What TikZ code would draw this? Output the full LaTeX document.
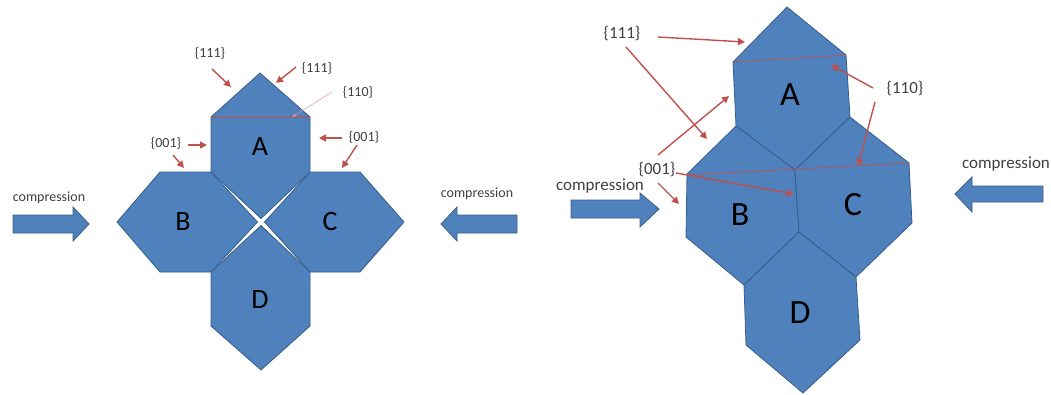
\documentclass[tikz,border=0pt]{standalone}
\usepackage{fontspec}
\setmainfont{Carlito}
\usetikzlibrary{arrows.meta}
\definecolor{cblue}{HTML}{4F81BD}
\definecolor{cedge}{HTML}{385D8A}
\definecolor{cred}{HTML}{C0504D}
\definecolor{ctext}{HTML}{404040}
\tikzset{
  grain/.style={fill=cblue,draw=cedge,line width=0.8pt,line join=miter},
  blockarrow/.style={fill=cblue,draw=cedge,line width=0.8pt},
  facet/.style={draw=cred,line width=0.7pt},
  redarrow/.style={draw=cred,line width=1.4pt,-{Triangle[length=7pt,width=7pt]}},
  thinarrow/.style={draw=cred!60,line width=0.5pt,-{Triangle[length=4pt,width=3pt]}},
  letterL/.style={text=black,font=\fontsize{28}{30}\selectfont,inner sep=0pt},
  letterR/.style={text=black,font=\fontsize{34}{36}\selectfont,inner sep=0pt},
  lblL/.style={text=ctext,font=\fontsize{14}{16}\selectfont,inner sep=0pt},
  lblR/.style={text=ctext,font=\fontsize{17}{19}\selectfont,inner sep=0pt},
}
\begin{document}
\begin{tikzpicture}[x=1pt,y=-1pt]
\useasboundingbox (0,0) rectangle (1051,394);
% ---------------- left figure ----------------
\draw[grain] (211,172) -- (211,117) -- (260,73) -- (310,117) -- (310,172) -- (261,218.5) -- cycle;
\draw[grain] (117,222) -- (160,172) -- (211,172) -- (257.5,222) -- (211,272) -- (160,272) -- cycle;
\draw[grain] (264.5,222) -- (310,172) -- (360,172) -- (404,222) -- (360,272) -- (310,272) -- cycle;
\draw[grain] (211,272) -- (261,225.5) -- (310,272) -- (310,326) -- (261,370) -- (211,326) -- cycle;
\draw[facet] (211,117) -- (310,117);
\node[letterL] (LA) at (260,147) {A};
\node[letterL] (LB) at (183,222) {B};
\node[letterL] (LC) at (330,222) {C};
\node[letterL] (LD) at (260,300) {D};
% labels
\node[lblL] (l111a) at (210,53) {\{111\}};
\node[lblL] (l111b) at (317,68) {\{111\}};
\node[lblL] (l110) at (358,92) {\{110\}};
\node[lblL] (l001a) at (166,143) {\{001\}};
\node[lblL] (l001b) at (364,137) {\{001\}};
\coordinate (a1s) at (212,69);  \coordinate (a1e) at (231,87);
\coordinate (a2s) at (296,67);  \coordinate (a2e) at (276,83);
\coordinate (a3s) at (332,92);  \coordinate (a3e) at (292,117);
\coordinate (a4s) at (188,145); \coordinate (a4e) at (207,145);
\coordinate (a5s) at (173,155); \coordinate (a5e) at (184,168);
\coordinate (a6s) at (342,138); \coordinate (a6e) at (319,138);
\coordinate (a7s) at (357,145); \coordinate (a7e) at (342,168);
\draw[redarrow] (a1s) -- (a1e);
\draw[redarrow] (a2s) -- (a2e);
\draw[thinarrow] (a3s) -- (a3e);
\draw[redarrow] (a4s) -- (a4e);
\draw[redarrow] (a5s) -- (a5e);
\draw[redarrow] (a6s) -- (a6e);
\draw[redarrow] (a7s) -- (a7e);
% compression arrows
\node[lblL] (cL1) at (49,198) {compression};
\draw[blockarrow] (13,215) -- (73,215) -- (73,207) -- (89,224) -- (73,241) -- (73,233) -- (13,233) -- cycle;
\node[lblL] (cL2) at (477,194) {compression};
\draw[blockarrow] (517,215) -- (457,215) -- (457,207) -- (441,224) -- (457,241) -- (457,233) -- (517,233) -- cycle;
% ---------------- right figure ----------------
\draw[grain] (736,126) -- (733,62) -- (787,7) -- (846,55) -- (850,117) -- (795,170) -- cycle;
\draw[grain] (736,126) -- (795,170) -- (799,232) -- (744,285) -- (686,237) -- (687,174) -- cycle;
\draw[grain] (850,117) -- (909,163) -- (912,223) -- (856,277) -- (799,232) -- (795,170) -- cycle;
\draw[grain] (799,232) -- (856,277) -- (860,340) -- (803,393) -- (746,345) -- (744,285) -- cycle;
\draw[facet] (733,62) -- (846,55);
\draw[facet] (687,175) -- (908,163);
\node[letterR] (RA) at (790,95) {A};
\node[letterR] (RB) at (740,215) {B};
\node[letterR] (RC) at (853,205) {C};
\node[letterR] (RD) at (800,313) {D};
\node[lblR] (r111) at (622,34) {\{111\}};
\node[lblR] (r110) at (905,89) {\{110\}};
\node[lblR] (r001) at (657,170) {\{001\}};
\coordinate (b1s) at (658,37);  \coordinate (b1e) at (745,42);
\coordinate (b2s) at (626,47);  \coordinate (b2e) at (707,139);
\coordinate (b3s) at (873,88);  \coordinate (b3e) at (831,65);
\coordinate (b4s) at (875,102); \coordinate (b4e) at (858,166);
\coordinate (b5s) at (658,155); \coordinate (b5e) at (729,96);
\coordinate (b6s) at (676,173); \coordinate (b6e) at (794,194);
\coordinate (b7s) at (658,183); \coordinate (b7e) at (679,204);
\draw[redarrow] (b1s) -- (b1e);
\draw[redarrow] (b2s) -- (b2e);
\draw[redarrow] (b3s) -- (b3e);
\draw[redarrow] (b4s) -- (b4e);
\draw[redarrow] (b5s) -- (b5e);
\draw[redarrow] (b6s) -- (b6e);
\draw[redarrow] (b7s) -- (b7e);
\node[lblR] (cR1) at (600,186) {compression};
\draw[blockarrow] (571,200) -- (640,200) -- (640,193) -- (659,209) -- (640,227) -- (640,218) -- (571,218) -- cycle;
\node[lblR] (cR2) at (1006,164) {compression};
\draw[blockarrow] (1043,186) -- (972,186) -- (972,177) -- (955,194) -- (972,212) -- (972,202) -- (1043,202) -- cycle;
\end{tikzpicture}
\end{document}
